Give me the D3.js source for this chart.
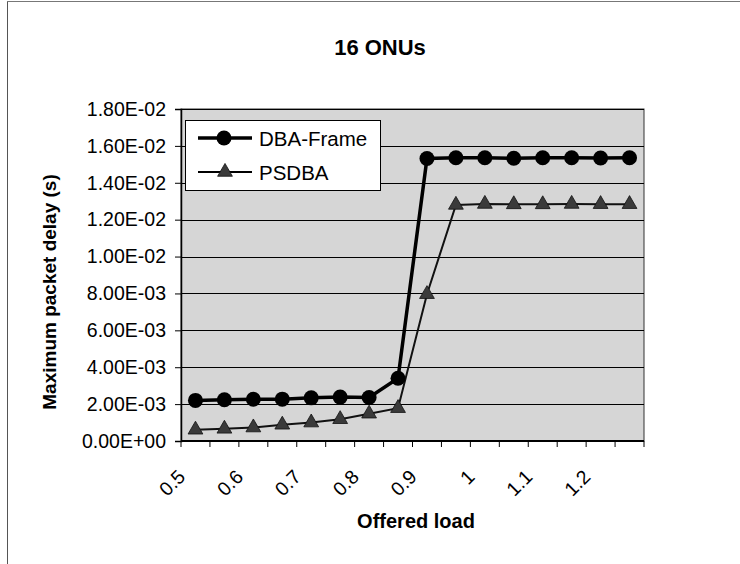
<!DOCTYPE html>
<html>
<head>
<meta charset="utf-8">
<script src="https://cdn.jsdelivr.net/npm/d3@7.9.0/dist/d3.min.js"></script>
<style>
  body { margin: 0; background: #fff; }
  svg { display: block; font-family: "Liberation Sans", Arial, sans-serif; }
</style>
</head>
<body>
<svg id="chart" width="740" height="564"></svg>
<script>
// data
const loads = [0.5, 0.55, 0.6, 0.65, 0.7, 0.75, 0.8, 0.85, 0.9, 0.95, 1, 1.05, 1.1, 1.15, 1.2, 1.25];
const xTickLabels = ['0.5', '0.6', '0.7', '0.8', '0.9', '1', '1.1', '1.2'];
const dbaFrame = [2.20e-3, 2.24e-3, 2.26e-3, 2.27e-3, 2.34e-3, 2.38e-3, 2.36e-3, 3.40e-3,
  1.532e-2, 1.536e-2, 1.536e-2, 1.533e-2, 1.536e-2, 1.536e-2, 1.534e-2, 1.536e-2];
const psdba = [6.1e-4, 6.6e-4, 7.3e-4, 8.8e-4, 1.0e-3, 1.18e-3, 1.48e-3, 1.78e-3,
  7.96e-3, 1.28e-2, 1.285e-2, 1.283e-2, 1.283e-2, 1.285e-2, 1.284e-2, 1.284e-2];
const yTicks = [0, 0.002, 0.004, 0.006, 0.008, 0.01, 0.012, 0.014, 0.016, 0.018];

const svg = d3.select('#chart');
const plot = { left: 181, right: 644, top: 109, bottom: 441 };

const x = d3.scaleBand().domain(loads).range([plot.left, plot.right]);
const y = d3.scaleLinear().domain([0, 0.018]).range([plot.bottom, plot.top]);
const cx = (d) => x(d) + x.bandwidth() / 2;

function sci(d) {
  const [m, e] = d.toExponential(2).split('e');
  const sign = e[0] === '-' ? '-' : '+';
  const digits = e.replace(/[+-]/, '').padStart(2, '0');
  return `${m}E${sign}${digits}`;
}

// outer frame (left and top edges only show)
svg.append('line').attr('x1', 7.5).attr('x2', 7.5).attr('y1', 1).attr('y2', 564)
  .attr('stroke', '#555').attr('stroke-width', 1);
svg.append('line').attr('x1', 7).attr('x2', 740).attr('y1', 1.5).attr('y2', 1.5)
  .attr('stroke', '#777').attr('stroke-width', 1);

// plot background
svg.append('rect')
  .attr('x', plot.left).attr('y', plot.top)
  .attr('width', plot.right - plot.left).attr('height', plot.bottom - plot.top)
  .attr('fill', '#d6d6d6').attr('stroke', '#333').attr('stroke-width', 1);

// gridlines
svg.append('g').selectAll('line')
  .data(yTicks.slice(1))
  .enter().append('line')
  .attr('x1', plot.left).attr('x2', plot.right)
  .attr('y1', (d) => Math.round(y(d)) + 0.5).attr('y2', (d) => Math.round(y(d)) + 0.5)
  .attr('stroke', '#000').attr('stroke-width', 1);

// y axis
const yAxis = svg.append('g')
  .attr('transform', `translate(${plot.left},0)`)
  .call(d3.axisLeft(y).tickValues(yTicks).tickFormat(sci).tickSize(6).tickPadding(9));
yAxis.select('.domain').attr('stroke', '#000').attr('stroke-width', 1.5);
yAxis.selectAll('.tick line').attr('stroke', '#000');
yAxis.selectAll('text').attr('font-size', 19.5).attr('fill', '#000');

// x axis: ticks at category boundaries
const bounds = loads.map((d) => x(d)).concat([plot.right]);
svg.append('line')
  .attr('x1', plot.left).attr('x2', plot.right)
  .attr('y1', plot.bottom).attr('y2', plot.bottom)
  .attr('stroke', '#000').attr('stroke-width', 2);
svg.append('g').selectAll('line')
  .data(bounds)
  .enter().append('line')
  .attr('x1', (d) => d).attr('x2', (d) => d)
  .attr('y1', plot.bottom).attr('y2', plot.bottom + 6)
  .attr('stroke', '#000').attr('stroke-width', 1);

// x labels, every second category, rotated
const labelled = loads.filter((d, i) => i % 2 === 0);
svg.append('g').selectAll('text')
  .data(labelled)
  .enter().append('text')
  .attr('transform', (d) => `translate(${cx(d) - 9},${plot.bottom + 37}) rotate(-45)`)
  .attr('text-anchor', 'end')
  .attr('font-size', 19.5)
  .text((d, i) => xTickLabels[i]);

// lines
const line = (vals) => d3.line()
  .x((d, i) => cx(loads[i]))
  .y((d) => y(d))(vals);

svg.append('path').attr('d', line(psdba))
  .attr('fill', 'none').attr('stroke', '#111').attr('stroke-width', 2);
svg.append('path').attr('d', line(dbaFrame))
  .attr('fill', 'none').attr('stroke', '#000').attr('stroke-width', 3.5);

const tri = d3.symbol().type(d3.symbolTriangle).size(95);
svg.append('g').selectAll('path')
  .data(psdba)
  .enter().append('path')
  .attr('d', tri)
  .attr('transform', (d, i) => `translate(${cx(loads[i])},${y(d)})`)
  .attr('fill', '#3a3a3a').attr('stroke', '#111').attr('stroke-width', 0.8);

svg.append('g').selectAll('circle')
  .data(dbaFrame)
  .enter().append('circle')
  .attr('cx', (d, i) => cx(loads[i]))
  .attr('cy', (d) => y(d))
  .attr('r', 7.5)
  .attr('fill', '#000');

// legend
const legend = svg.append('g');
legend.append('rect')
  .attr('x', 185.5).attr('y', 120.5).attr('width', 195).attr('height', 70)
  .attr('fill', '#fff').attr('stroke', '#000').attr('stroke-width', 1);
const items = [
  { name: 'DBA-Frame', y: 138, width: 3.5, mark: 'circle' },
  { name: 'PSDBA', y: 172, width: 2, mark: 'triangle' }
];
items.forEach((it) => {
  legend.append('line')
    .attr('x1', 198).attr('x2', 252).attr('y1', it.y).attr('y2', it.y)
    .attr('stroke', '#000').attr('stroke-width', it.width);
  if (it.mark === 'circle') {
    legend.append('circle').attr('cx', 224).attr('cy', it.y).attr('r', 7.5).attr('fill', '#000');
  } else {
    legend.append('path').attr('d', tri)
      .attr('transform', `translate(225,${it.y})`)
      .attr('fill', '#3a3a3a').attr('stroke', '#111').attr('stroke-width', 0.8);
  }
  legend.append('text')
    .attr('x', 259).attr('y', it.y + 7.5)
    .attr('font-size', 20.5)
    .text(it.name);
});

// titles
svg.append('text')
  .attr('x', 380).attr('y', 55)
  .attr('text-anchor', 'middle')
  .attr('font-size', 22).attr('font-weight', 'bold')
  .text('16 ONUs');

svg.append('text')
  .attr('x', 416).attr('y', 528)
  .attr('text-anchor', 'middle')
  .attr('font-size', 20).attr('font-weight', 'bold')
  .text('Offered load');

svg.append('text')
  .attr('transform', 'translate(56,292) rotate(-90)')
  .attr('text-anchor', 'middle')
  .attr('font-size', 19).attr('font-weight', 'bold')
  .text('Maximum packet delay (s)');
</script>
</body>
</html>
